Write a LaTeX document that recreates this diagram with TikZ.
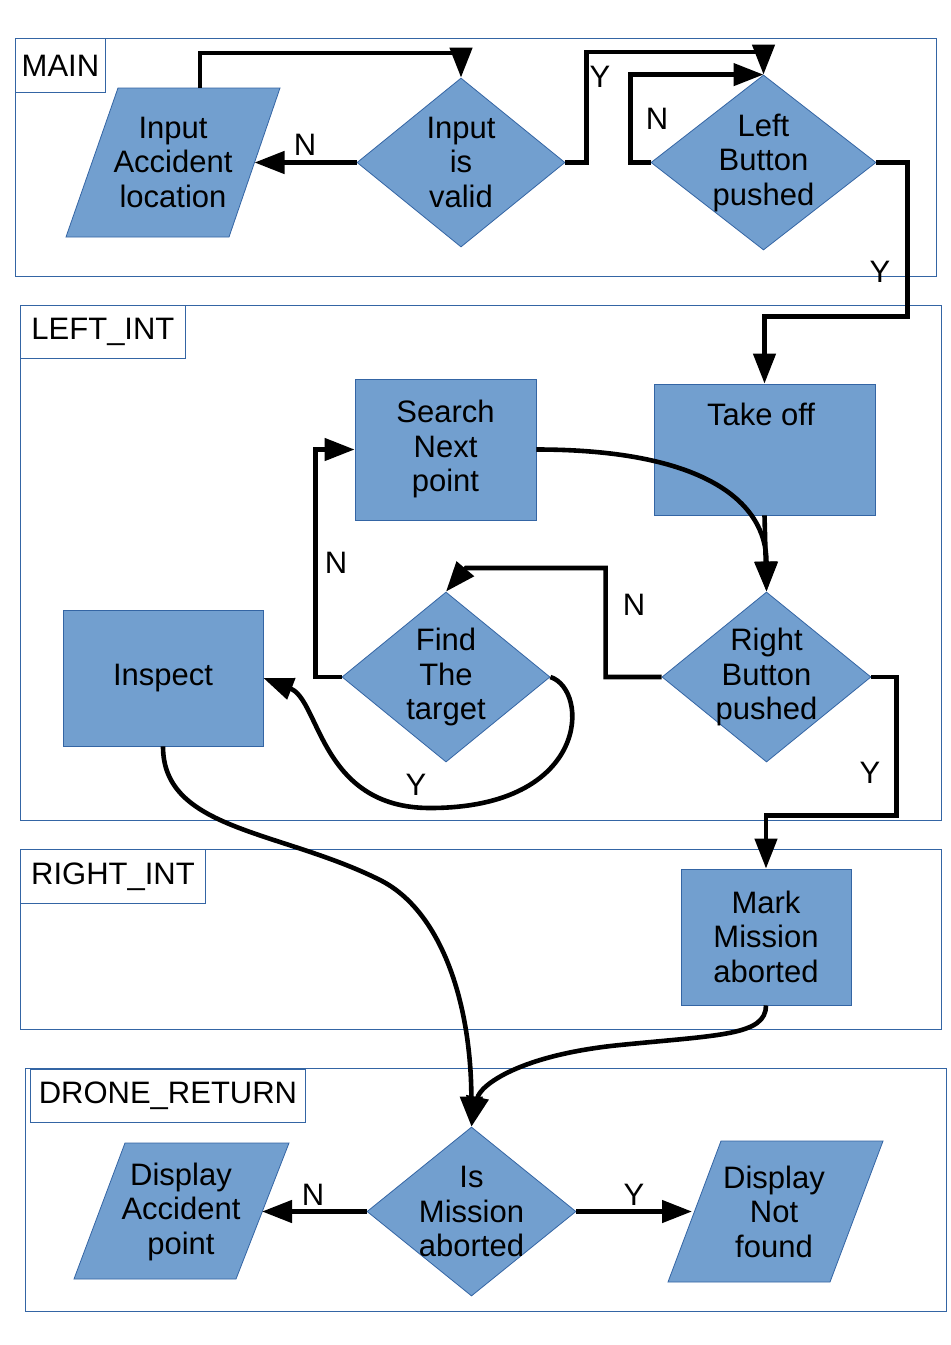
\documentclass[tikz,border=0pt]{standalone}
\usepackage{fontspec}
\setmainfont{Liberation Sans}
\usetikzlibrary{shapes.geometric,arrows.meta,calc}
\definecolor{fillb}{HTML}{729FCF}
\definecolor{lineb}{HTML}{3465A4}
\newcommand{\fsz}{\fontsize{31}{34.5}\selectfont}
\begin{document}
\begin{tikzpicture}[x=1pt,y=-1pt,
  frame/.style={draw=lineb,line width=0.9pt},
  framelab/.style={draw=lineb,line width=0.9pt,fill=white,anchor=north west,inner sep=0pt,font=\fsz},
  box/.style={rectangle,fill=fillb,draw=lineb,line width=0.8pt,inner sep=0pt},
  dia/.style={diamond,fill=fillb,draw=lineb,line width=0.8pt,inner sep=0pt},
  para/.style={fill=fillb,draw=lineb,line width=0.8pt},
  txt/.style={align=center,font=\fsz,inner sep=0pt},
  lab/.style={font=\fsz,inner sep=0pt},
  conn/.style={draw=black,line width=4.6pt},
  arr/.style={conn,-{Triangle[length=30pt,width=22pt]}}]
\useasboundingbox[fill=white] (0,0) rectangle (951,1345);

% frames
\draw[frame] (15,38) rectangle (936,276);
\draw[frame] (20,305) rectangle (941,820);
\draw[frame] (20,849) rectangle (941,1029);
\draw[frame] (25,1068) rectangle (946,1311);
\node[framelab,minimum width=90,minimum height=54] (lMain) at (15,38) {MAIN};
\node[framelab,minimum width=165,minimum height=53] (lLeft) at (20,305) {LEFT\_INT};
\node[framelab,minimum width=185,minimum height=54] (lRight) at (20,849) {RIGHT\_INT};
\node[framelab,minimum width=275,minimum height=53] (lDrone) at (30,1069) {DRONE\_RETURN};

% MAIN shapes
\filldraw[para] (66,237) -- (229,237) -- (280,88) -- (118,88) -- cycle;
\node[txt] (tIn) at (173,162) {Input\\Accident\\location};
\coordinate (pInT) at (200,88);
\coordinate (pInR) at (254.5,162.5);
\node[dia,minimum width=208,minimum height=169] (dIV) at (461,162.5) {};
\node[txt] (tIV) at (461,162) {Input\\is\\valid};
\node[dia,minimum width=225,minimum height=175] (dLB) at (763.5,162.5) {};
\node[txt] (tLB) at (763.5,162.5) {Left\\Button\\pushed};

% LEFT_INT shapes
\node[box,minimum width=221,minimum height=131] (rTO) at (764.5,449.5) {};
\node[txt] (tTO) at (761,414) {Take off};
\node[box,minimum width=181,minimum height=141] (rSN) at (445.5,449.5) {};
\node[txt] (tSN) at (445.5,449) {Search\\Next\\point};
\node[dia,minimum width=208,minimum height=170] (dFT) at (446,677) {};
\node[txt] (tFT) at (446,677) {Find\\The\\target};
\node[dia,minimum width=209,minimum height=170] (dRB) at (766.5,677) {};
\node[txt] (tRB) at (766.5,677) {Right\\Button\\pushed};
\node[box,minimum width=200,minimum height=136] (rIN) at (163,678) {};
\node[txt] (tIN) at (163,678) {Inspect};

% RIGHT_INT
\node[box,minimum width=170,minimum height=136] (rMM) at (766,937) {};
\node[txt] (tMM) at (766,936.5) {Mark\\Mission\\aborted};

% DRONE_RETURN
\node[dia,minimum width=209,minimum height=169] (dIM) at (471.5,1211.5) {};
\node[txt] (tIM) at (471.5,1211.5) {Is\\Mission\\aborted};
\filldraw[para] (74,1279) -- (236,1279) -- (289,1143) -- (125,1143) -- cycle;
\node[txt] (tDA) at (181,1211.5) {Display\\Accident\\point};
\coordinate (pDAR) at (262,1211.5);
\filldraw[para] (668,1282) -- (830,1282) -- (883,1141) -- (721,1141) -- cycle;
\node[txt] (tNF) at (774,1211.5) {Display\\Not\\found};
\coordinate (pNFL) at (692,1211.5);

% connectors
\draw[arr] (pInT) |- (330,53) -| (dIV.north);
\draw[arr] (dIV.west) -- (pInR);
\draw[arr] (dIV.east) -- ++(21,0) |- (680,52) -| (dLB.north);
\draw[arr] (dLB.west) -- ++(-20,0) |- (dLB.north);
\draw[arr] (dLB.east) -- ++(31,0) |- ($(rTO.north)+(0,-67)$) -- (rTO.north);
\draw[arr] (rTO.south) -- (dRB.north);
\draw[arr] (rSN.east) .. controls +(164,0) and +(0,-92) .. (dRB.north);
\draw[arr] (dRB.west) -- ++(-56,0) |- (466,568) -- (dFT.north);
\draw[arr] (dFT.west) -- ++(-26,0) |- (rSN.west);
\draw[arr] (dFT.east) .. controls (590,690) and (590,808) .. (430,808)
   .. controls (320,808) and (320,700) .. (rIN.east);
\draw[arr] (dRB.east) -- ++(25,0) |- ($(rMM.north)+(0,-53)$) -- (rMM.north);
\draw[arr] (rIN.south) .. controls +(0,84) and (280,830) .. (380,880)
   .. controls (440,910) and (471,1000) .. (dIM.north);
\draw[arr] (rMM.south) .. controls +(0,30) and (720,1035) .. (620,1045)
   .. controls (520,1055) and (480,1085) .. (dIM.north);
\draw[arr] (dIM.west) -- (pDAR);
\draw[arr] (dIM.east) -- (pNFL);

% labels
\node[lab] (n1) at (305,145) {N};
\node[lab] (y1) at (600,77) {Y};
\node[lab] (n2) at (657,119) {N};
\node[lab] (y2) at (880,272) {Y};
\node[lab] (n3) at (336,563) {N};
\node[lab] (n4) at (634,605) {N};
\node[lab] (y3) at (416,785) {Y};
\node[lab] (y4) at (870,773) {Y};
\node[lab] (n5) at (313,1195) {N};
\node[lab] (y5) at (634,1195) {Y};
\end{tikzpicture}
\end{document}
